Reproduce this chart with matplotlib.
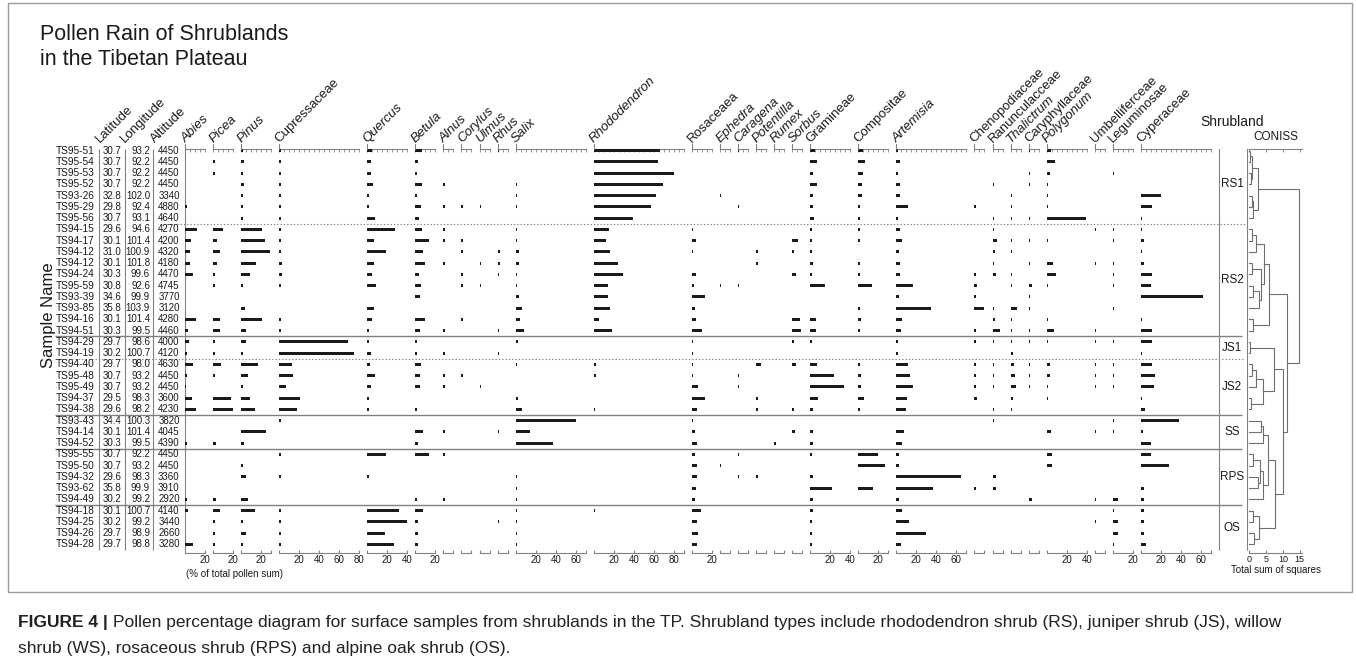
import matplotlib
matplotlib.use("Agg")
import matplotlib.pyplot as plt
from matplotlib.patches import Rectangle

plt.rcParams['font.family'] = ['Liberation Sans', 'DejaVu Sans']

# ---- data -------------------------------------------------------------
samples = ["TS95-51", "TS95-54", "TS95-53", "TS95-52", "TS93-26", "TS95-29", "TS95-56",
           "TS94-15", "TS94-17", "TS94-12", "TS94-12", "TS94-24", "TS95-59", "TS93-39",
           "TS93-85", "TS94-16", "TS94-51", "TS94-29", "TS94-19", "TS94-40", "TS95-48",
           "TS95-49", "TS94-37", "TS94-38", "TS93-43", "TS94-14", "TS94-52", "TS95-55",
           "TS95-50", "TS94-32", "TS93-62", "TS94-49", "TS94-18", "TS94-25", "TS94-26",
           "TS94-28"]
latitude = ["30.7", "30.7", "30.7", "30.7", "32.8", "29.8", "30.7", "29.6", "30.1", "31.0",
            "30.1", "30.3", "30.8", "34.6", "35.8", "30.1", "30.3", "29.7", "30.2", "29.7",
            "30.7", "30.7", "29.5", "29.6", "34.4", "30.1", "30.3", "30.7", "30.7", "29.6",
            "35.8", "30.2", "30.1", "30.2", "29.7", "29.7"]
longitude = ["93.2", "92.2", "92.2", "92.2", "102.0", "92.4", "93.1", "94.6", "101.4", "100.9",
             "101.8", "99.6", "92.6", "99.9", "103.9", "101.4", "99.5", "98.6", "100.7", "98.0",
             "93.2", "93.2", "98.3", "98.2", "100.3", "101.4", "99.5", "92.2", "93.2", "98.3",
             "99.9", "99.2", "100.7", "99.2", "98.9", "98.8"]
altitude = ["4450", "4450", "4450", "4450", "3340", "4880", "4640", "4270", "4200", "4320",
            "4180", "4470", "4745", "3770", "3120", "4280", "4460", "4000", "4120", "4630",
            "4450", "4450", "3600", "4230", "3820", "4045", "4390", "4450", "4450", "3360",
            "3910", "2920", "4140", "3440", "2660", "3280"]

taxa = ["Abies", "Picea", "Pinus", "Cupressaceae", "Quercus", "Betula", "Alnus", "Corylus",
        "Ulmus", "Rhus", "Salix", "Rhododendron", "Rosaceaea", "Ephedra", "Caragena",
        "Potentilla", "Rumex", "Sorbus", "Gramineae", "Compositae", "Artemisia",
        "Chenopodiaceae", "Ranunculacceae", "Thalictrum", "Caryphyllaceae", "Polygonum",
        "Umbelliferceae", "Leguminosae", "Cyperaceae"]
italic = [True, True, True, False, True, True, True, True, True, True, True, True, False,
          True, True, True, True, True, False, False, True, False, False, True, False, True,
          False, False, False]
scale_max = [20, 20, 30, 80, 40, 20, 10, 10, 10, 10, 70, 90, 20, 10, 10, 10, 10, 10, 40, 30,
             70, 10, 10, 10, 10, 40, 10, 20, 70]

pollen = {
    "Abies": [0, 0, 0, 0, 0, 1.5, 0, 12, 6.3, 5.3, 5.3, 8, 0, 0, 0, 10.7, 3, 4.3, 2.3, 8.3,
              1.7, 1.3, 7, 10.7, 0, 0, 2, 0, 0, 0, 0, 2, 3, 0, 0, 8],
    "Picea": [0, 1.5, 1.5, 0, 0, 0, 0, 9.7, 4.3, 7.3, 4, 1.5, 2, 0, 0, 6.7, 6.7, 1.5, 1.5, 7.7,
              1.5, 0, 17.7, 20, 0, 0, 3, 0, 0, 0, 0, 3, 7, 1.5, 1.5, 1.5],
    "Pinus": [2, 3.3, 1.5, 2.7, 1.5, 1.5, 1.5, 20.7, 23.7, 28.7, 14.7, 8.7, 1.5, 0, 3.7, 21, 5,
              5, 2.3, 16.7, 6.7, 1.7, 8.7, 14, 0, 25, 3, 0, 1.5, 5, 0, 7, 14, 1.5, 5, 1.5],
    "Cupressaceae": [1.5, 1.5, 1.5, 1.5, 1.5, 1.5, 1.5, 1.5, 1.7, 1.7, 2.3, 2.7, 1.5, 0, 0, 1.3,
                     1.3, 68.7, 74.7, 12.7, 13.7, 6.7, 20.7, 17.7, 1.5, 0, 0, 1.5, 0, 1.5, 0, 0,
                     1.5, 1.5, 1.5, 1.5],
    "Quercus": [4.7, 3.3, 3.3, 6, 1.5, 1.5, 7.3, 27.3, 6.3, 19, 6.3, 4.7, 9, 0, 6.3, 4.3, 1.5,
                2, 3.7, 2.7, 8, 3.7, 2, 2, 0, 0, 0, 19, 0, 1.5, 0, 0, 32, 40, 18, 27],
    "Betula": [6.7, 3, 1.7, 6.3, 1.5, 5.7, 3.7, 6.7, 14, 7.3, 10, 4, 6, 4.3, 0, 9.3, 4.7, 1.5,
               1.5, 5.7, 4.7, 4.7, 0, 1.5, 0, 8, 3, 14, 0, 0, 0, 1.5, 8, 3, 3, 3],
    "Alnus": [0, 0, 0, 1.5, 0, 1.5, 0, 1.5, 1.5, 0, 1.5, 0, 0, 0, 0, 0, 1.5, 0, 1.5, 0, 1.5,
              1.5, 0, 0, 0, 1.5, 0, 1.5, 0, 0, 0, 1.5, 0, 0, 0, 0],
    "Corylus": [0, 0, 0, 0, 0, 1.5, 0, 0, 1.5, 1.5, 0, 1.5, 1.5, 0, 0, 1.5, 0, 0, 0, 0, 1.5, 0,
                0, 0, 0, 0, 0, 0, 0, 0, 0, 0, 0, 0, 0, 0],
    "Ulmus": [0, 0, 0, 0, 0, 1.5, 0, 0, 0, 0, 1.5, 0, 1.5, 0, 0, 0, 0, 0, 0, 0, 0, 1.5, 0, 0,
              0, 0, 0, 0, 0, 0, 0, 0, 0, 0, 0, 0],
    "Rhus": [1.5, 0, 0, 0, 0, 0, 0, 0, 0, 2.7, 2.7, 1.5, 0, 0, 0, 0, 1.5, 0, 1.5, 0, 0, 0, 0, 0,
             0, 1.5, 0, 0, 0, 0, 0, 0, 0, 1.5, 0, 0],
    "Salix": [0, 0, 0, 1.5, 1.5, 1.5, 0, 1.5, 1.5, 3, 3.7, 1.5, 1.5, 3.7, 6.3, 4.3, 8.3, 2.3, 0,
              1.5, 0, 0, 2.3, 6.7, 60.3, 14, 37, 0, 0, 1.5, 1.5, 1.5, 1.5, 1.5, 1.5, 1.5],
    "Rhododendron": [66, 64.7, 80.3, 69, 62, 57, 39, 15, 12, 16, 24.7, 29, 14.3, 14, 16, 5,
                     18.7, 0, 0, 2.7, 2, 0, 0, 1.5, 0, 0, 0, 0, 0, 0, 0, 0, 1.5, 0, 0, 0],
    "Rosaceaea": [0, 0, 0, 0, 0, 0, 0, 1.5, 4, 1.5, 0, 4, 2, 13.3, 3.3, 4.3, 10.3, 1.5, 1.5,
                  1.5, 1.5, 6.3, 13.3, 5.3, 1.5, 3, 5, 3, 5, 5, 4, 3, 9, 5, 6, 5],
    "Ephedra": [0, 0, 0, 0, 1.5, 0, 0, 0, 0, 0, 0, 0, 1.5, 0, 0, 0, 0, 0, 0, 0, 0, 0, 0, 0, 0,
                0, 0, 0, 1.5, 0, 0, 0, 0, 0, 0, 0],
    "Caragena": [1.5, 0, 0, 0, 0, 1.5, 0, 0, 0, 0, 0, 0, 1.5, 0, 0, 0, 0, 0, 0, 0, 1.5, 1.5, 0,
                 0, 0, 0, 0, 1.5, 0, 1.5, 0, 0, 0, 0, 0, 0],
    "Potentilla": [0, 0, 0, 0, 0, 0, 0, 0, 0, 2.3, 1.5, 0, 0, 0, 0, 0, 0, 0, 0, 5.3, 0, 0, 1.5,
                   2, 0, 0, 0, 0, 0, 1.5, 0, 0, 0, 0, 0, 0],
    "Rumex": [0, 0, 0, 0, 0, 0, 0, 0, 0, 0, 0, 0, 0, 0, 0, 0, 0, 0, 0, 0, 0, 0, 0, 0, 0, 0,
              1.5, 0, 0, 0, 0, 0, 0, 0, 0, 0],
    "Sorbus": [0, 0, 0, 0, 0, 0, 0, 0, 6, 1.5, 0, 4.3, 0, 0, 0, 8, 9, 2, 0, 4.3, 0, 0, 0, 1.5,
               0, 3, 0, 0, 0, 0, 0, 0, 0, 0, 0, 0],
    "Gramineae": [5, 6.7, 2.7, 6.3, 3, 2.7, 3.7, 1.5, 1.5, 1.5, 3, 1.5, 14.3, 0, 0, 5.3, 5.3,
                  1.3, 0, 7, 24, 34, 8, 2.3, 0, 3, 3, 2, 0, 3, 22, 3, 3, 1.5, 1.5, 1.5],
    "Compositae": [5, 7, 4.3, 3.7, 4, 1.5, 1.5, 1.5, 1.5, 0, 2, 1.5, 13.7, 0, 1.5, 2.7, 1.5, 0,
                   0, 1.5, 2.7, 2.7, 6, 1.5, 0, 0, 0, 20, 27, 0, 15, 0, 0, 0, 0, 0],
    "Artemisia": [2, 3.3, 1.5, 3.3, 3.3, 12, 1.5, 3.3, 6, 3, 4, 3.3, 16.7, 3, 35, 6, 5, 1.5, 2,
                  12, 14, 16.7, 11, 10, 0, 8, 6, 3, 3, 65, 37, 3, 6, 13, 30, 5],
    "Chenopodiaceae": [0, 0, 0, 0, 0, 1.5, 0, 0, 0, 0, 0, 1.5, 2.7, 1.5, 10, 0, 1.5, 1.5, 0,
                       1.5, 2, 1.5, 3, 0, 0, 0, 0, 0, 0, 0, 1.5, 0, 0, 0, 0, 0],
    "Ranunculacceae": [0, 0, 0, 1.5, 0, 0, 1.5, 1.5, 4.7, 2.3, 1.5, 3.3, 0, 0, 1.5, 2.7, 7.7,
                       1.5, 0, 1.5, 1.5, 1.5, 0, 1.5, 1.5, 0, 0, 0, 0, 3, 3, 0, 0, 0, 0, 0],
    "Thalictrum": [0, 0, 0, 0, 1.5, 1.5, 1.5, 0, 1.5, 1.5, 0, 1.5, 1.5, 0, 6.7, 1.5, 1.5, 1.5,
                   2, 3.3, 4.3, 5.3, 2.7, 1.5, 0, 0, 0, 0, 0, 0, 0, 0, 0, 0, 0, 0],
    "Caryphyllaceae": [1.5, 0, 1.5, 1.5, 0, 0, 1.5, 0, 1.5, 0, 1.5, 0, 3, 1.5, 1.5, 0, 1.5,
                       1.5, 0, 1.5, 1.7, 1.5, 0, 0, 0, 0, 0, 0, 0, 0, 0, 3, 0, 0, 0, 0],
    "Polygonum": [4, 8, 3, 1.5, 1.5, 1.5, 39.7, 0, 1.5, 0, 6.3, 9.7, 1.5, 0, 0, 1.5, 7, 1.5, 0,
                  3, 3, 1.5, 1.5, 0, 0, 4, 0, 5, 5, 0, 0, 0, 0, 0, 0, 0],
    "Umbelliferceae": [0, 0, 0, 0, 0, 0, 0, 1.5, 0, 0, 1.5, 0, 0, 0, 0, 0, 1.5, 1.5, 0, 1.5,
                       1.5, 1.5, 0, 0, 0, 1.5, 0, 0, 0, 0, 0, 1.5, 0, 1.5, 0, 0],
    "Leguminosae": [0, 0, 1.5, 0, 0, 0, 0, 1.5, 1.5, 0, 1.5, 1.5, 1.5, 0, 1.5, 0, 0, 1.5, 0,
                    1.5, 1.5, 1.5, 0, 0, 1.5, 1.5, 0, 0, 0, 0, 0, 5, 1.5, 5, 5, 1.5],
    "Cyperaceae": [0, 0, 0, 0, 20, 11.3, 1.5, 1.5, 3.3, 1.5, 3.3, 11.3, 10, 61.7, 0, 1.5, 11.3,
                   11.3, 1.5, 10.7, 13.7, 12.7, 1.5, 4, 38, 2, 10, 10, 28, 0, 3, 3, 3, 3, 3, 5],
}

groups = ["RS1", "RS2", "JS1", "JS2", "SS", "RPS", "OS"]
group_first = [0, 7, 17, 19, 24, 27, 32]
group_last = [6, 16, 18, 23, 26, 31, 35]
group_line = ["dotted", "solid", "dotted", "solid", "solid", "solid"]

# CONISS clustering: [left, right, total sum of squares]
rs1 = [[[0, 1, 0.3], [2, 3, 0.5], 0.9], [[4, 5, 0.7], 6, 1.2], 2.7]
rs2 = [[[[7, 8, 0.8], 9, 2.0], [[10, 11, 0.8], [[12, 13, 1.0], 14, 2.8], 3.6], 4.3],
       [15, 16, 1.2], 5.9]
js = [[17, 18, 0.3], [[[19, 20, 0.8], 21, 2.1], [22, 23, 0.5], 4.2], 7.3]
ss = [[24, 25, 3.5], 26, 4.2]
rps = [[[27, 28, 1.0], [29, 30, 2.5], 3.2], 31, 4.0]
oss = [[32, 33, 1.0], [34, 35, 1.5], 3.0]
coniss = [rs1, [rs2, [js, [[ss, rps, 5.5], oss, 7.8], 9.9], 11.3], 14.8]

# ---- layout (pixels) --------------------------------------------------
W, H = 1356, 664
TOP, BOT = 149, 553
ROW0, ROWH = 150.7, 11.25
ytop = (TOP - ROW0) / ROWH
ybot = (BOT - ROW0) / ROWH
dark = "#1a1a1a"
grey = "#808080"

fig = plt.figure(figsize=(W / 100, H / 100), dpi=100)


def box(x0, x1):
    return [x0 / W, 1 - BOT / H, (x1 - x0) / W, (BOT - TOP) / H]


# full-width background axes sharing the row scale
bg = fig.add_axes(box(0, W))
bg.set_xlim(0, W)
bg.set_ylim(ybot, ytop)
bg.axis("off")

n = len(samples)
rows = list(range(n))
for i in rows:
    bg.text(95, i, samples[i], ha="right", va="center", fontsize=7.3, color=dark)
    bg.text(112, i, latitude[i], ha="center", va="center", fontsize=7, color=dark)
    bg.text(150, i, longitude[i], ha="right", va="center", fontsize=7, color=dark)
    bg.text(169, i, altitude[i], ha="center", va="center", fontsize=7, color=dark)
for xv in [99, 125, 153, 184.5]:
    bg.vlines(xv, ytop, n - 0.5, color=grey, lw=0.8)
for xv in [1219, 1247]:
    bg.vlines(xv, ytop - 0.5, n - 0.5, color=grey, lw=0.8)

for k, style in enumerate(group_line):
    yy = group_last[k] + 0.5
    if style == "solid":
        bg.hlines(yy, 55, 1242, color=grey, lw=1.0)
    else:
        bg.hlines(yy, 55 if k else 160, 1245, color=grey, lw=0.8, linestyles=(0, (1.2, 1.8)))
for g, a, b in zip(groups, group_first, group_last):
    bg.text(1232, (a + b) / 2, g, ha="center", va="center", fontsize=8.5, color=dark)

bg.text(48, 14.6, "Sample Name", rotation=90, ha="center", va="center", fontsize=12,
        color=dark)

# header labels for site columns
hdr_y = (143 - ROW0) / ROWH
for xv, lab in [(100, "Latitude"), (125, "Longitude"), (155, "Altitude")]:
    bg.text(xv, hdr_y, lab, rotation=45, rotation_mode="anchor", ha="left", va="baseline",
            fontsize=9.5, color=dark, clip_on=False)

# pollen panels
gap = 8.07
x0 = 185
for t, rng, it in zip(taxa, scale_max, italic):
    ax = fig.add_axes(box(x0, x0 + rng))
    ax.patch.set_alpha(0)
    vals = pollen[t]
    ax.barh(rows, vals, height=0.26, color=dark, lw=0)
    ax.set_xlim(0, rng)
    ax.set_ylim(ybot, ytop)
    for s in ["left", "right", "top"]:
        ax.spines[s].set_visible(False)
    ax.spines["bottom"].set_color(grey)
    ax.spines["bottom"].set_linewidth(0.8)
    ax.set_yticks([])
    ticks = sorted(set([0, rng] + list(range(20, rng + 1, 20))))
    ax.set_xticks(ticks)
    ax.set_xticklabels([str(v) if v and v % 20 == 0 else "" for v in ticks],
                       fontsize=7, color=dark)
    ax.tick_params(axis="x", direction="in", length=2.5, width=0.8, color=grey, pad=1.5)
    top = ax.secondary_xaxis("top")
    top.set_xticks(list(range(0, rng + 1, 5)))
    top.tick_params(direction="in", length=2, width=0.6, color=grey, labeltop=False)
    top.spines["top"].set_color(grey)
    top.spines["top"].set_linewidth(0.8)
    ax.plot([0, 0], [ytop, ytop - 0.45], color=grey, lw=0.8, clip_on=False)
    ax.text(0.2, hdr_y, t, rotation=45, rotation_mode="anchor", ha="left", va="baseline",
            fontsize=9.5, color=dark, style="italic" if it else "normal", clip_on=False)
    x0 += rng + gap

# CONISS dendrogram
cx = fig.add_axes(box(1249.3, 1302))
cx.patch.set_alpha(0)
cx.set_xlim(0, 15.7)
cx.set_ylim(ybot, ytop)


def draw(node):
    if isinstance(node, int):
        return 0.0, node
    left, right, h = node
    hl, yl = draw(left)
    hr, yr = draw(right)
    cx.plot([hl, h, h, hr], [yl, yl, yr, yr], color="#6e6e6e", lw=0.8,
            solid_joinstyle="miter")
    return h, (yl + yr) / 2


draw(coniss)
for s in ["left", "right", "top"]:
    cx.spines[s].set_visible(False)
cx.spines["bottom"].set_color(grey)
cx.set_yticks([])
cx.set_xticks([0, 5, 10, 15])
cx.set_xticklabels(["0", "5", "10", "15"], fontsize=6.5, color=dark)
cx.tick_params(axis="x", direction="in", length=2.5, width=0.8, color=grey, pad=1.5)
ctop = cx.secondary_xaxis("top")
ctop.set_xticks([0, 5, 10, 15])
ctop.tick_params(direction="in", length=2.5, width=0.6, color=grey, labeltop=False)
ctop.spines["top"].set_color(grey)
cx.set_xlabel("Total sum of squares", fontsize=7, color=dark, labelpad=1)

# titles and labels
fig.text(40 / W, 1 - 40 / H, "Pollen Rain of Shrublands", fontsize=15.5, color=dark,
         va="baseline")
fig.text(40 / W, 1 - 65 / H, "in the Tibetan Plateau", fontsize=15.5, color=dark,
         va="baseline")
fig.text(1232 / W, 1 - 122 / H, "Shrubland", fontsize=10, color=dark, ha="center",
         va="center")
fig.text(1276 / W, 1 - 137 / H, "CONISS", fontsize=8.5, color=dark, ha="center",
         va="center")
fig.text(235 / W, 1 - 574 / H, "(% of total pollen sum)", fontsize=7, color=dark,
         ha="center", va="center")

fig.patches.append(Rectangle((8 / W, 1 - 592 / H), 1344 / W, 589 / H,
                             transform=fig.transFigure, fill=False, ec="#9a9a9a", lw=1.0))

# caption
t1 = fig.text(18 / W, 1 - 622 / H, "FIGURE 4 | ", fontsize=12.5, fontweight="bold",
              color="#222222", va="center")
fig.canvas.draw()
bb = t1.get_window_extent()
fig.text(bb.x1 / W, 1 - 622 / H,
         "Pollen percentage diagram for surface samples from shrublands in the TP. "
         "Shrubland types include rhododendron shrub (RS), juniper shrub (JS), willow",
         fontsize=12.5, color="#222222", va="center")
fig.text(18 / W, 1 - 648 / H,
         "shrub (WS), rosaceous shrub (RPS) and alpine oak shrub (OS).",
         fontsize=12.5, color="#222222", va="center")

fig.savefig("out.png", dpi=100)
